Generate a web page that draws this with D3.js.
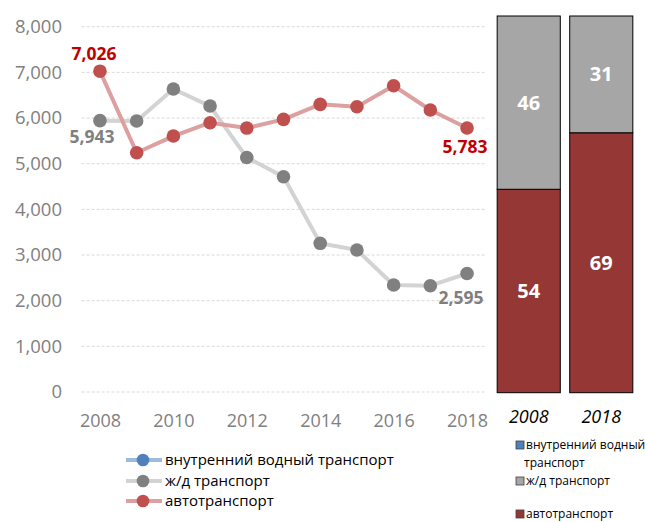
<!DOCTYPE html>
<html><head><meta charset="utf-8">
<script src="https://cdn.jsdelivr.net/npm/d3@7"></script>
<style>body{margin:0;background:#fff}svg{display:block}text{font-family:"Open Sans",sans-serif}</style>
</head><body><svg id="c" width="645" height="522"></svg>
<script>
const years = [2008,2009,2010,2011,2012,2013,2014,2015,2016,2017,2018];
const railValues = [5943,5935,6635,6262,5135,4715,3256,3110,2343,2328,2595];
const autoValues = [7026,5240,5605,5897,5780,5971,6300,6248,6707,6175,5783];
const waterValues = [];
const yTicks = [0,1000,2000,3000,4000,5000,6000,7000,8000];
const xTickYears = [2008,2010,2012,2014,2016,2018];
const shareYears = ["2008","2018"];
const shareAuto = [54,69];
const shareRail = [46,31];
const shareWater = [0,0];
const seriesNames = ["внутренний водный транспорт","ж/д транспорт","автотранспорт"];
const shareLegend = [["внутренний водный","транспорт"],["ж/д транспорт"],["автотранспорт"]];

const svg = d3.select("#c");
const x = d3.scalePoint().domain(years).range([81.6,485.4]).padding(0.5);
const y = d3.scaleLinear().domain([0,8000]).range([392,26.7]);
const fmt = d3.format(",");

// grid
svg.append("g").selectAll("line").data(yTicks).join("line")
  .attr("x1",81.6).attr("x2",485.4).attr("y1",d=>y(d)).attr("y2",d=>y(d))
  .attr("stroke","#d9d9d9").attr("stroke-width",1).attr("stroke-dasharray","3,2");

// y axis
const ya = svg.append("g").attr("transform","translate(62,0)").call(d3.axisLeft(y).tickValues(yTicks).tickFormat(fmt).tickSize(0).tickPadding(0));
ya.select(".domain").remove();
ya.selectAll("text").attr("font-size",18.5).attr("fill","#808080").attr("font-family","'Open Sans',sans-serif");

// x axis
const xa = svg.append("g").attr("transform","translate(0,392)").call(d3.axisBottom(x).tickValues(xTickYears).tickSize(0).tickPadding(22));
xa.select(".domain").remove();
xa.selectAll("text").attr("font-size",18).attr("fill","#808080").attr("font-family","'Open Sans',sans-serif");

const line = d3.line().x((d,i)=>x(years[i])).y(d=>y(d));
function series(vals, lc, mc){
  svg.append("path").datum(vals).attr("d",line).attr("fill","none").attr("stroke",lc).attr("stroke-width",4).attr("stroke-linejoin","round");
  svg.append("g").selectAll("circle").data(vals).join("circle")
    .attr("cx",(d,i)=>x(years[i])).attr("cy",d=>y(d)).attr("r",6.8).attr("fill",mc);
}
series(railValues,"#d3d3d3","#808080");
series(autoValues,"#dda0a0","#c0504d");

// data labels
const lab = (t,xx,yy,c)=>svg.append("text").attr("x",xx).attr("y",yy).attr("text-anchor","middle")
  .attr("font-size",17.5).attr("font-weight","bold").attr("fill",c).text(t);
lab(fmt(autoValues[0]), x(2008)-6, 60, "#c00000");
lab(fmt(railValues[0]), x(2008)-8, 143, "#7f7f7f");
lab(fmt(autoValues[10]), x(2018)-2, 153, "#c00000");
lab(fmt(railValues[10]), x(2018)-6, 304, "#7f7f7f");

// left legend
const lg = svg.append("g");
const legCols = [["#9dbbe0","#4f81bd"],["#d3d3d3","#808080"],["#dda0a0","#c0504d"]];
const legY = [460,481,501];
seriesNames.forEach((n,i)=>{
  lg.append("line").attr("x1",126).attr("x2",162).attr("y1",legY[i]).attr("y2",legY[i]).attr("stroke",legCols[i][0]).attr("stroke-width",4);
  lg.append("circle").attr("cx",143).attr("cy",legY[i]).attr("r",6.3).attr("fill",legCols[i][1]);
  lg.append("text").attr("x",165).attr("y",legY[i]).attr("dy","0.35em").attr("font-size",15).attr("fill","#000").text(n);
});

// share bars
const xb = d3.scaleBand().domain(shareYears).range([495,635]).paddingInner(0.13).paddingOuter(0.03);
const yb = d3.scaleLinear().domain([0,100]).range([392.7,16]);
shareYears.forEach((yr,i)=>{
  const x0 = xb(yr), w = xb.bandwidth();
  const a = shareAuto[i], r = shareRail[i];
  svg.append("rect").attr("x",x0).attr("y",yb(a)).attr("width",w).attr("height",yb(0)-yb(a)).attr("fill","#953735").attr("stroke","#000").attr("stroke-width",1);
  svg.append("rect").attr("x",x0).attr("y",yb(a+r)).attr("width",w).attr("height",yb(a)-yb(a+r)).attr("fill","#a6a6a6").attr("stroke","#000").attr("stroke-width",1);
  svg.append("text").attr("x",x0+w/2).attr("y",(yb(0)+yb(a))/2).attr("dy","0.35em").attr("text-anchor","middle").attr("font-size",20).attr("font-weight","bold").attr("fill","#fff").text(a);
  svg.append("text").attr("x",x0+w/2).attr("y",(yb(a)+yb(a+r))/2).attr("dy","0.35em").attr("text-anchor","middle").attr("font-size",20).attr("font-weight","bold").attr("fill","#fff").text(r);
  svg.append("text").attr("x",x0+w/2).attr("y",417).attr("dy","0.35em").attr("text-anchor","middle").attr("font-size",18).attr("font-style","italic").attr("fill","#000").text(yr);
});

// share legend
const sCols = ["#4f81bd","#a6a6a6","#953735"];
const sY = [[445,463],[481],[514]];
shareLegend.forEach((lines,i)=>{
  svg.append("rect").attr("x",516).attr("y",sY[i][0]-4).attr("width",8).attr("height",8).attr("fill",sCols[i]).attr("stroke","#404040").attr("stroke-width",0.8);
  lines.forEach((t,j)=>svg.append("text").attr("x",j===0?526:524).attr("y",sY[i][j]).attr("dy","0.35em").attr("font-size",12).attr("fill","#000").text(t));
});
</script></body></html>
